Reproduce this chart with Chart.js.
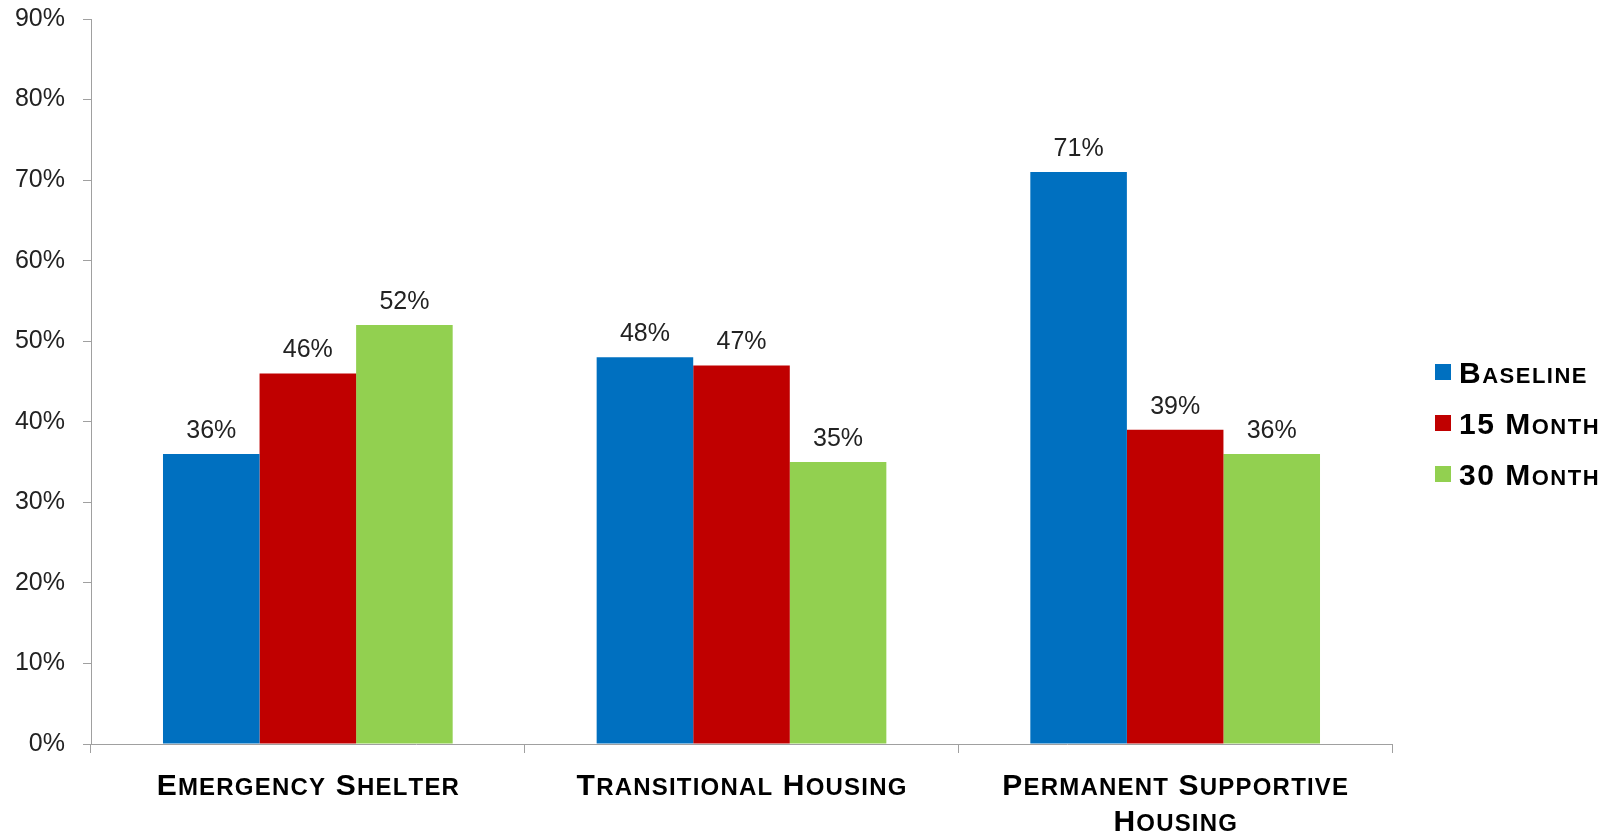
<!DOCTYPE html>
<html>
<head>
<meta charset="utf-8">
<script src="https://cdn.jsdelivr.net/npm/chart.js@4"></script>
<style>
  body { margin: 0; background: #fff; }
  canvas { display: block; }
</style>
</head>
<body>
<canvas id="chart" width="1612" height="835"></canvas>
<script>
const categories = [["Emergency Shelter"], ["Transitional Housing"], ["Permanent Supportive", "Housing"]];
const seriesNames = ["Baseline", "15 Month", "30 Month"];
const baseline = [36, 48, 71];
const month15 = [46, 47, 39];
const month30 = [52, 35, 36];
const seriesColors = ["#0070C0", "#C00000", "#92D050"];
const yTicks = [0, 10, 20, 30, 40, 50, 60, 70, 80, 90];

const FONT = "'Liberation Sans', Arial, sans-serif";
const axisColor = "#a0a0a0";

// draws text in small caps: capitals and digits at the big size, lowercase as smaller capitals
function drawSmallCaps(ctx, text, x, y, big, small, spacing, align) {
  const parts = [];
  for (const ch of text) {
    const isLower = ch !== ch.toUpperCase();
    parts.push({ ch: ch.toUpperCase(), size: isLower ? small : big });
  }
  let total = 0;
  parts.forEach((p) => {
    ctx.font = "bold " + p.size + "px " + FONT;
    p.w = ctx.measureText(p.ch).width;
    total += p.w + spacing;
  });
  total -= spacing;
  let cx = align === "center" ? x - total / 2 : x;
  ctx.textAlign = "left";
  ctx.textBaseline = "alphabetic";
  parts.forEach((p) => {
    ctx.font = "bold " + p.size + "px " + FONT;
    ctx.fillText(p.ch, cx, y);
    cx += p.w + spacing;
  });
}

const customDraw = {
  id: "customDraw",
  afterDatasetsDraw(chart) {
    const ctx = chart.ctx;
    ctx.save();
    // value labels above the bars
    ctx.fillStyle = "#222";
    ctx.font = "25px " + FONT;
    ctx.textAlign = "center";
    ctx.textBaseline = "alphabetic";
    chart.data.datasets.forEach((ds, di) => {
      chart.getDatasetMeta(di).data.forEach((bar, i) => {
        ctx.fillText(ds.data[i] + "%", bar.x, bar.y - 16);
      });
    });

    // category labels under the x axis
    const xs = chart.scales.x;
    ctx.fillStyle = "#000";
    categories.forEach((lines, i) => {
      const px = xs.getPixelForTick(i);
      lines.forEach((line, li) => {
        drawSmallCaps(ctx, line, px, 795 + li * 36, 30, 24, 1.2, "center");
      });
    });

    // legend on the right
    seriesNames.forEach((name, i) => {
      const cy = 372 + i * 51;
      ctx.fillStyle = seriesColors[i];
      ctx.fillRect(1435, cy - 8, 16, 16);
      ctx.fillStyle = "#000";
      drawSmallCaps(ctx, name, 1459, cy + 11, 30, 22, 1.5, "left");
    });
    ctx.restore();
  }
};

new Chart(document.getElementById("chart"), {
  type: "bar",
  data: {
    labels: categories.map((c) => c.join(" ")),
    datasets: [
      { label: seriesNames[0], data: baseline, backgroundColor: seriesColors[0] },
      { label: seriesNames[1], data: month15, backgroundColor: seriesColors[1] },
      { label: seriesNames[2], data: month30, backgroundColor: seriesColors[2] }
    ]
  },
  options: {
    responsive: false,
    devicePixelRatio: 1,
    animation: false,
    layout: { padding: { top: 19, right: 220, left: 0, bottom: 0 } },
    datasets: {
      bar: { categoryPercentage: 0.668, barPercentage: 1 }
    },
    plugins: {
      legend: { display: false },
      tooltip: { enabled: false }
    },
    scales: {
      x: {
        grid: {
          display: true,
          drawOnChartArea: false,
          drawTicks: true,
          tickLength: 9,
          color: axisColor,
          offset: true
        },
        border: { display: true, color: axisColor, width: 1 },
        ticks: { display: false },
        afterFit(scale) {
          scale.height = 91;
          scale.paddingLeft = 0;
          scale.paddingRight = 0;
        }
      },
      y: {
        min: 0,
        max: 90,
        afterBuildTicks(scale) { scale.ticks = yTicks.map((v) => ({ value: v })); },
        grid: {
          display: true,
          drawOnChartArea: false,
          drawTicks: true,
          tickLength: 8,
          color: axisColor
        },
        border: { display: true, color: axisColor, width: 1 },
        ticks: {
          padding: 18,
          color: "#222",
          font: { family: FONT, size: 25 },
          callback: (v) => v + "%"
        },
        afterFit(scale) {
          scale.width = 91;
          scale.paddingTop = 0;
          scale.paddingBottom = 0;
        }
      }
    }
  },
  plugins: [customDraw]
});
</script>
</body>
</html>
